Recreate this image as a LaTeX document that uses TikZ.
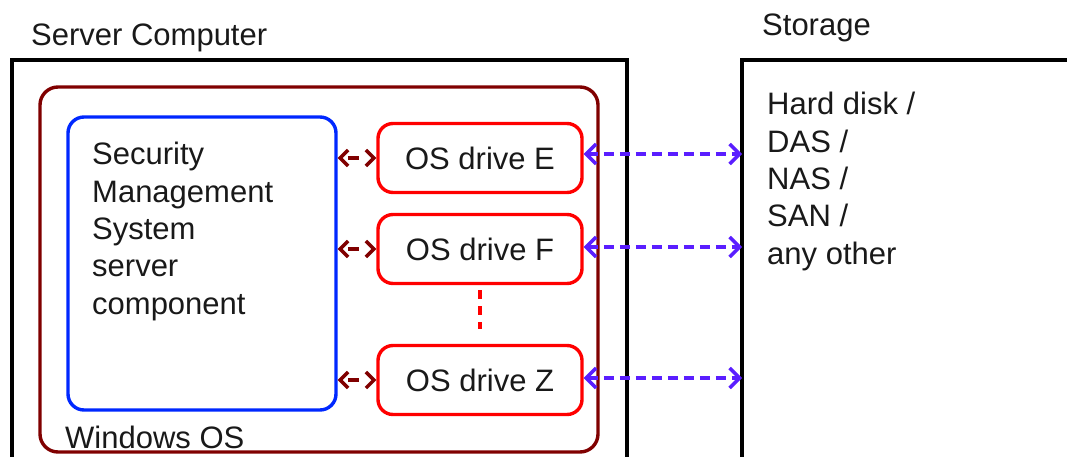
\documentclass[tikz,border=0pt]{standalone}
\usepackage{fontspec}
\setmainfont{Liberation Sans}
\usetikzlibrary{arrows.meta}
\definecolor{wred}{RGB}{128,0,0}
\definecolor{sblue}{RGB}{0,40,255}
\definecolor{dred}{RGB}{255,0,0}
\definecolor{vblue}{RGB}{90,30,255}
\definecolor{txt}{RGB}{25,25,25}
\begin{document}
\begin{tikzpicture}[x=1pt,y=-1pt,
  lbl/.style={anchor=west,inner sep=0pt,text=txt,font=\fontsize{31}{37.4}\selectfont,align=left},
  drivebox/.style={draw=dred,line width=3.4pt,rounded corners=15pt,minimum width=204pt,minimum height=69pt,inner sep=0pt,text=txt,font=\fontsize{31}{37.4}\selectfont},
  linkL/.style={draw=wred,line width=3.4pt,dash pattern=on 0pt off 6pt on 11pt off 40pt,{Straight Barb[length=8pt,width=16pt,line width=3.4pt]}-{Straight Barb[length=8pt,width=16pt,line width=3.4pt]}},
  linkR/.style={draw=vblue,line width=3.4pt,dash pattern=on 10pt off 6pt,{Straight Barb[length=10pt,width=20pt,line width=3.4pt]}-{Straight Barb[length=10pt,width=20pt,line width=3.4pt]}}
]
\useasboundingbox (0,0) rectangle (1067,457);
\clip (0,0) rectangle (1067,457);
% server computer
\draw[line width=3.6pt] (12,470) -- (12,60) -- (627,60) -- (627,470);
\node[lbl] (srvlbl) at (31,38) {Server Computer};
% storage
\draw[line width=3.6pt] (742,470) -- (742,60) -- (1080,60);
\coordinate (stor) at (742,60);
\node[lbl] (storlbl) at (762,28) {Storage};
\node[lbl,anchor=north west] (stortxt) at (767,92) {Hard disk /\\DAS /\\NAS /\\SAN /\\any other};
% windows OS
\node[draw=wred,line width=3.4pt,rounded corners=18pt,minimum width=558pt,minimum height=365pt,inner sep=0pt] (win) at (319,269.5) {};
\node[lbl] (winlbl) at (65,437) {Windows OS};
% SMS component
\node[draw=sblue,line width=3.4pt,rounded corners=16pt,minimum width=268pt,minimum height=293pt,inner sep=0pt] (sms) at (202,263.5) {};
\node[lbl,anchor=north west] (smstxt) at (92,142) {Security\\Management\\System\\server\\component};
% drives
\node[drivebox] (E) at (480,158) {OS drive E};
\node[drivebox] (F) at (480,249) {OS drive F};
\node[drivebox] (Z) at (480,380) {OS drive Z};
\coordinate (Fs) at ([yshift=-5pt]F.south);
\coordinate (Zn) at ([yshift=15pt]Z.north);
\draw[dred,line width=3.4pt,dash pattern=on 9pt off 7pt] (Fs) -- (Zn);
% left links
\draw[linkL] (sms.east |- E) -- (E.west);
\draw[linkL] (sms.east |- F) -- (F.west);
\draw[linkL] (sms.east |- Z) -- (Z.west);
% right links
\coordinate (Ee) at ([yshift=4pt]E.east);
\coordinate (Fe) at ([yshift=2pt]F.east);
\coordinate (Ze) at ([yshift=2pt]Z.east);
\draw[linkR] (Ee) -- (stor |- Ee);
\draw[linkR] (Fe) -- (stor |- Fe);
\draw[linkR] (Ze) -- (stor |- Ze);
\end{tikzpicture}
\end{document}
